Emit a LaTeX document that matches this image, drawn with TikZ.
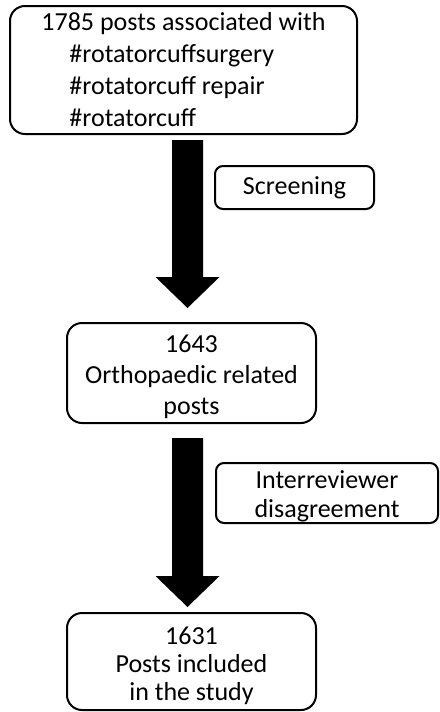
\documentclass[tikz,border=0pt]{standalone}
\usepackage{fontspec}
\setmainfont{Carlito}
\usetikzlibrary{calc}
\tikzset{
  box/.style={draw=black, line width=2pt, rounded corners=15pt, inner sep=0pt, align=center,
    font=\fontsize{26}{31}\selectfont},
  sidebox/.style={draw=black, line width=2pt, rounded corners=8pt, inner sep=0pt, align=center,
    font=\fontsize{26}{29}\selectfont},
  blockarrow/.style={fill=black}
}
\newcommand{\blockarr}[2]{%
  \fill[blockarrow] ($(#1)+(-15.5,0)$) -- ($(#1)+(15.5,0)$) -- ($(#2)+(15.5,-31)$) -- ($(#2)+(32,-31)$)
    -- (#2) -- ($(#2)+(-32,-31)$) -- ($(#2)+(-15.5,-31)$) -- cycle;}
\begin{document}
\begin{tikzpicture}[x=1pt,y=-1pt]
\useasboundingbox (0,0) rectangle (439,712);
\node[box, minimum width=347pt, minimum height=128pt, align=left, font=\fontsize{26}{32}\selectfont] (b1) at (183.5,70)
  {1785 posts associated with\\\hspace*{28pt}\#rotatorcuffsurgery\\\hspace*{28pt}\#rotatorcuff repair\\\hspace*{28pt}\#rotatorcuff};
\node[sidebox, minimum width=159pt, minimum height=43pt] (s1) at (294.5,187.5) {Screening};
\node[box, minimum width=249pt, minimum height=100pt] (b2) at (191.5,373)
  {\rule{0pt}{26pt}1643\\Orthopaedic related\\posts};
\node[sidebox, minimum width=222pt, minimum height=60pt] (s2) at (327,493) {\rule{0pt}{24pt}Interreviewer\\disagreement};
\node[box, minimum width=249pt, minimum height=97pt, font=\fontsize{26}{28}\selectfont] (b3) at (191.5,661.5)
  {\rule{0pt}{27pt}1631\\Posts included\\in the study};
\coordinate (a1top) at (187.5,140);
\coordinate (a1tip) at (187.5,308);
\coordinate (a2top) at (187.5,438);
\coordinate (a2tip) at (187.5,607);
\blockarr{a1top}{a1tip}
\blockarr{a2top}{a2tip}
\end{tikzpicture}
\end{document}
